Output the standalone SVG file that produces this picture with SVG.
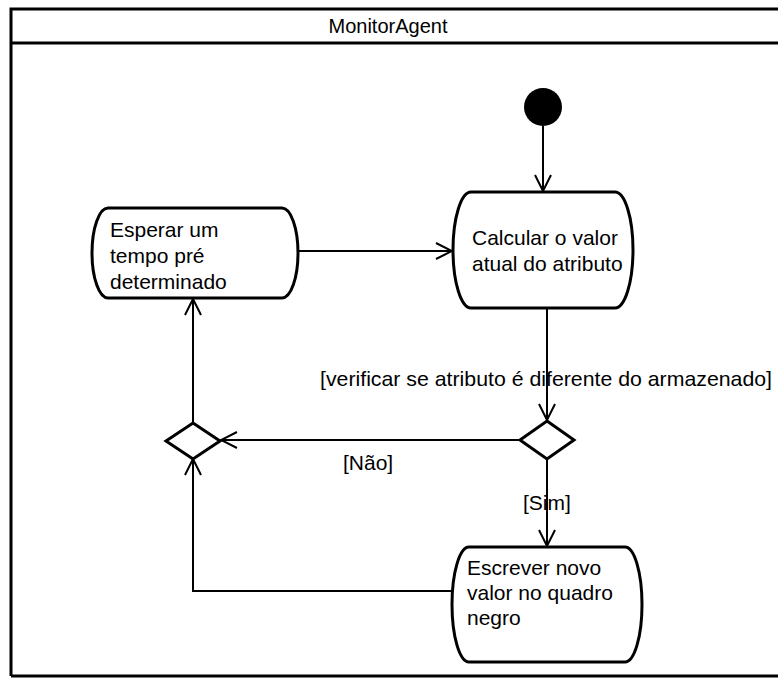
<svg xmlns="http://www.w3.org/2000/svg" width="778" height="683" viewBox="0 0 778 683">
  <style>
    text { font-family: "Liberation Sans", Arial, sans-serif; font-size: 21px; fill: #000; }
    .title { font-size: 20px; }
    .frame { fill: none; stroke: #000; stroke-width: 3; }
    .action { fill: #fff; stroke: #000; stroke-width: 3; }
    .decision { fill: #fff; stroke: #000; stroke-width: 3; stroke-linejoin: miter; }
    .flow { fill: none; stroke: #000; stroke-width: 2; marker-end: url(#open); }
  </style>
  <defs>
    <marker id="open" viewBox="0 0 18 18" refX="17" refY="9" markerWidth="18" markerHeight="18" markerUnits="userSpaceOnUse" orient="auto">
      <path d="M1,1 L17,9 L1,17" fill="none" stroke="#000" stroke-width="2"/>
    </marker>
  </defs>

  <rect width="778" height="683" fill="#fff"/>

  <!-- activity frame with its name compartment -->
  <g id="frame">
    <path class="frame" d="M11,676 V9 H780 M11,43 H780 M11,676 H780"/>
    <text class="title" x="388" y="33" text-anchor="middle">MonitorAgent</text>
  </g>

  <!-- connectors -->
  <g id="connectors">
    <line class="flow" x1="543" y1="126" x2="543" y2="191"/>
    <line class="flow" x1="298" y1="251" x2="452" y2="251"/>
    <line class="flow" x1="547" y1="308" x2="547" y2="420"/>
    <line class="flow" x1="520" y1="440" x2="221" y2="440"/>
    <line class="flow" x1="547" y1="459" x2="547" y2="546"/>
    <polyline class="flow" points="452,591 193,591 193,459"/>
    <line class="flow" x1="193" y1="422" x2="193" y2="299"/>
    <text x="320" y="386" textLength="452" lengthAdjust="spacingAndGlyphs">[verificar se atributo é diferente do armazenado]</text>
    <text x="343" y="470">[Não]</text>
    <text x="523" y="510">[Sim]</text>
  </g>

  <!-- initial node -->
  <g id="initial">
    <circle cx="543" cy="107" r="19" fill="#000"/>
  </g>

  <!-- actions -->
  <g id="esperar">
    <path class="action" d="M108,208 H282 A16,45 0 0 1 282,298 H108 A16,45 0 0 1 108,208 Z"/>
    <text x="110" y="237">Esperar um</text>
    <text x="110" y="263">tempo pré</text>
    <text x="110" y="289">determinado</text>
  </g>

  <g id="calcular">
    <path class="action" d="M471,192 H615 A18,58 0 0 1 615,308 H471 A18,58 0 0 1 471,192 Z"/>
    <text x="472" y="245">Calcular o valor</text>
    <text x="472" y="271">atual do atributo</text>
  </g>

  <g id="escrever">
    <path class="action" d="M469,547 H625 A17,57.5 0 0 1 625,662 H469 A17,57.5 0 0 1 469,547 Z"/>
    <text x="467" y="575">Escrever novo</text>
    <text x="467" y="600">valor no quadro</text>
    <text x="467" y="625">negro</text>
  </g>

  <!-- decision / merge nodes -->
  <g id="decisao">
    <polygon class="decision" points="547,421 574,440 547,459 520,440"/>
  </g>
  <g id="juncao">
    <polygon class="decision" points="193,423 220,441 193,459 166,441"/>
  </g>
</svg>
